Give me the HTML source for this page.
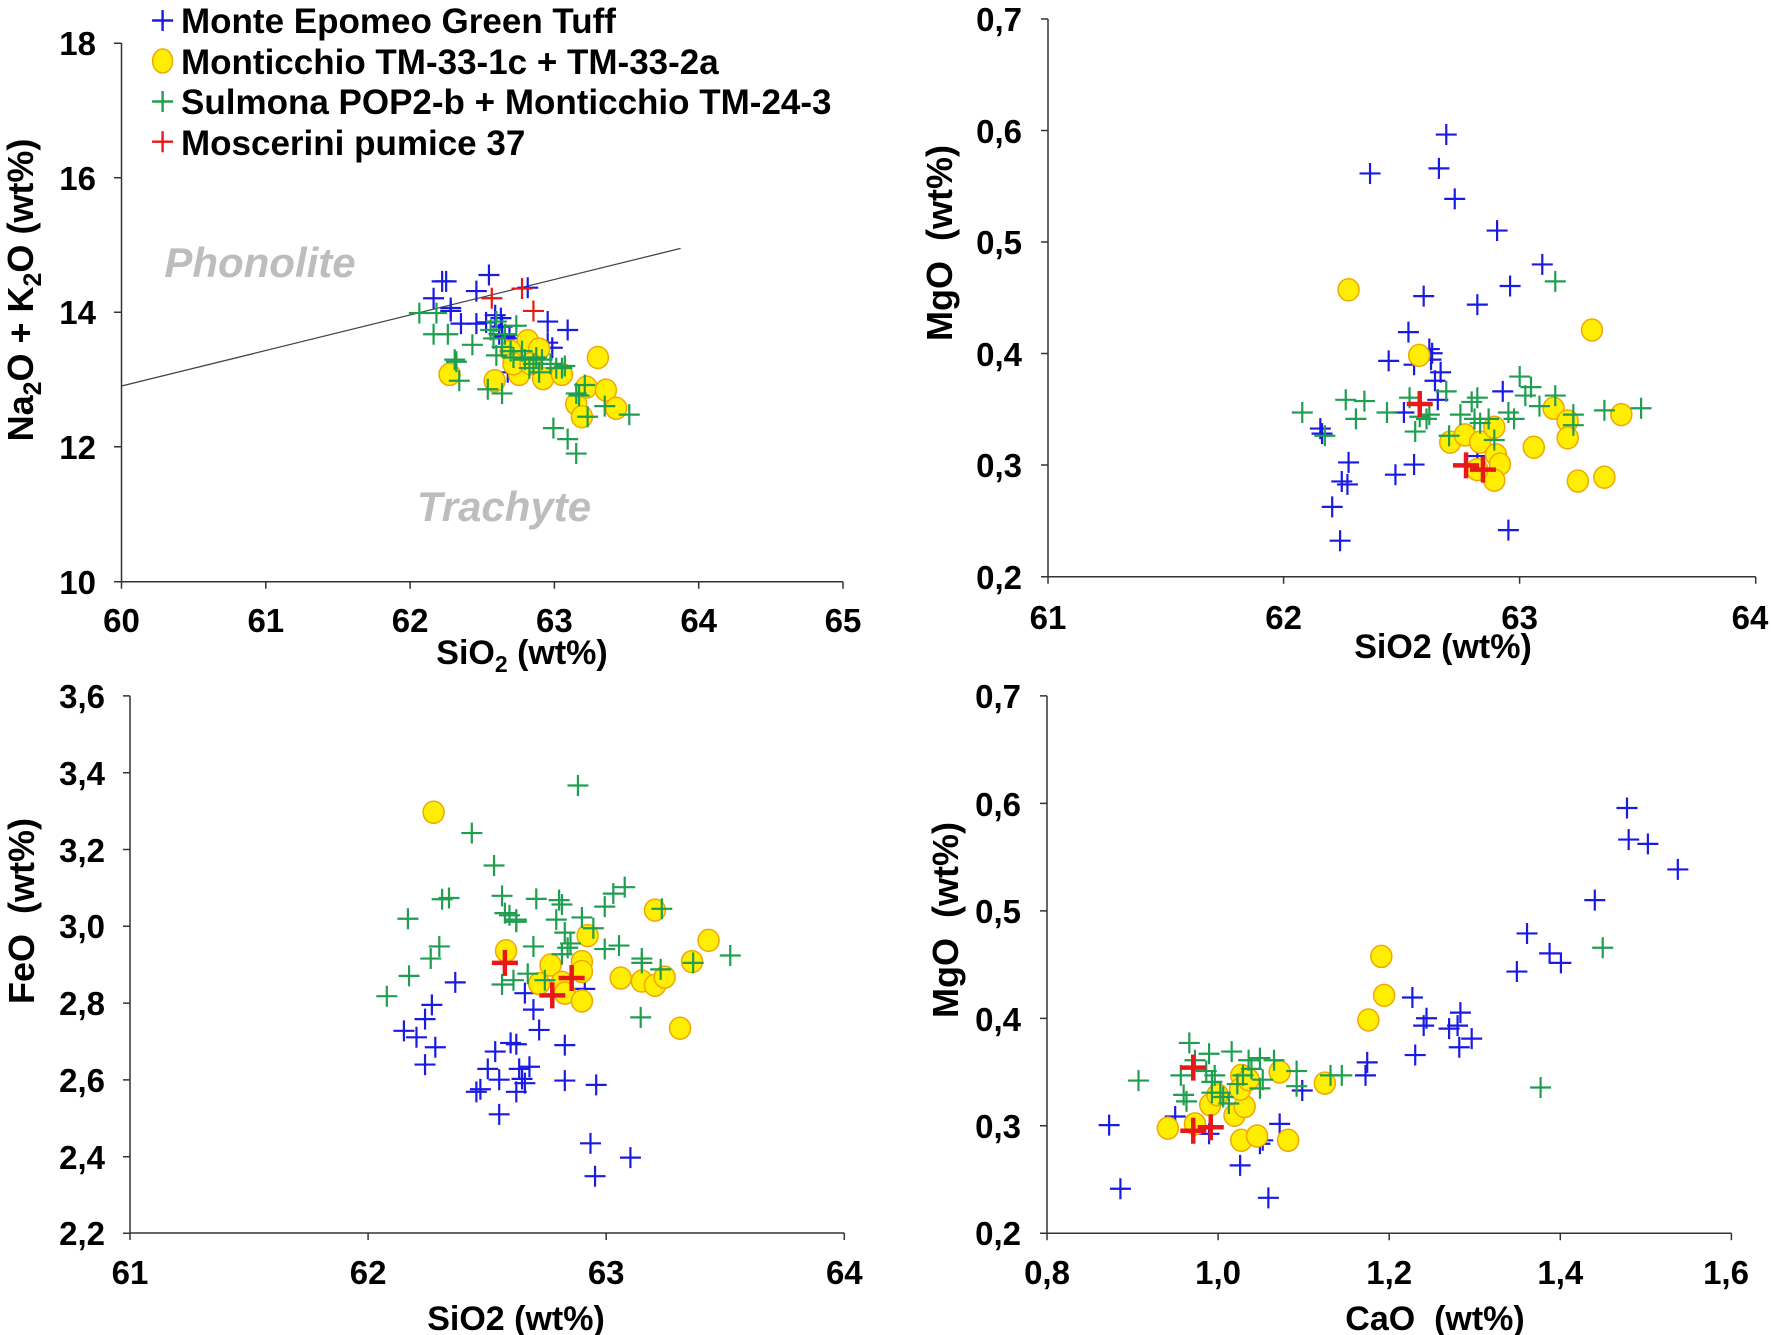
<!DOCTYPE html>
<html><head><meta charset="utf-8"><style>
html,body{margin:0;padding:0;background:#fff;}
svg{display:block;font-family:"Liberation Sans",Arial,sans-serif;font-weight:bold;}
</style></head><body>
<svg id="s" width="1771" height="1335" viewBox="0 0 1771 1335" xmlns="http://www.w3.org/2000/svg">
<rect width="1771" height="1335" fill="#fff"/>
<g stroke="#333" stroke-width="1.5" fill="none">
<path d="M121.5 43 V581.7 H843"/>
<path d="M114 43.2h7.5 M114 177.7h7.5 M114 312.2h7.5 M114 446.8h7.5 M114 581.7h7.5"/>
<path d="M121.5 581.7v7 M265.8 581.7v7 M410.1 581.7v7 M554.4 581.7v7 M698.7 581.7v7 M843 581.7v7"/>
<line x1="121.5" y1="386" x2="680.6" y2="248.4" stroke="#444" stroke-width="1.3"/>
<path d="M1048 19 V576.7 H1755.7"/>
<path d="M1041 19h7 M1041 130.5h7 M1041 242h7 M1041 353.5h7 M1041 465h7 M1041 576.7h7"/>
<path d="M1048 576.7v7 M1283.6 576.7v7 M1519.6 576.7v7 M1755.7 576.7v7"/>
<path d="M130 695.9 V1233 H844.3"/>
<path d="M123 695.9h7 M123 772.7h7 M123 849.5h7 M123 926.3h7 M123 1003.1h7 M123 1079.9h7 M123 1156.7h7 M123 1233.3h7"/>
<path d="M130 1233v7 M368.1 1233v7 M606.2 1233v7 M844.3 1233v7"/>
<path d="M1047 695.9 V1233.3 H1731.4"/>
<path d="M1040 695.9h7 M1040 803.4h7 M1040 910.9h7 M1040 1018.4h7 M1040 1125.8h7 M1040 1233.3h7"/>
<path d="M1047 1233.3v7 M1218.1 1233.3v7 M1389.2 1233.3v7 M1560.3 1233.3v7 M1731.4 1233.3v7"/>
</g>
<g id="pts"></g>
<g font-size="33" fill="#000">
<g text-anchor="end"><text x="96" y="55">18</text><text x="96" y="190">16</text><text x="96" y="324">14</text><text x="96" y="459">12</text><text x="96" y="594">10</text></g>
<g text-anchor="middle"><text x="121.5" y="632">60</text><text x="265.8" y="632">61</text><text x="410.1" y="632">62</text><text x="554.4" y="632">63</text><text x="698.7" y="632">64</text><text x="843" y="632">65</text></g>
<g text-anchor="end"><text x="1022" y="31">0,7</text><text x="1022" y="143">0,6</text><text x="1022" y="254">0,5</text><text x="1022" y="366">0,4</text><text x="1022" y="477">0,3</text><text x="1022" y="589">0,2</text></g>
<g text-anchor="middle"><text x="1048" y="629">61</text><text x="1283.6" y="629">62</text><text x="1519.6" y="629">63</text><text x="1750" y="629">64</text></g>
<g text-anchor="end"><text x="105" y="708">3,6</text><text x="105" y="785">3,4</text><text x="105" y="862">3,2</text><text x="105" y="938">3,0</text><text x="105" y="1015">2,8</text><text x="105" y="1092">2,6</text><text x="105" y="1169">2,4</text><text x="105" y="1245">2,2</text></g>
<g text-anchor="middle"><text x="130" y="1284">61</text><text x="368.1" y="1284">62</text><text x="606.2" y="1284">63</text><text x="844.3" y="1284">64</text></g>
<g text-anchor="end"><text x="1021" y="708">0,7</text><text x="1021" y="816">0,6</text><text x="1021" y="923">0,5</text><text x="1021" y="1031">0,4</text><text x="1021" y="1138">0,3</text><text x="1021" y="1245">0,2</text></g>
<g text-anchor="middle"><text x="1047" y="1284">0,8</text><text x="1218.1" y="1284">1,0</text><text x="1389.2" y="1284">1,2</text><text x="1560.3" y="1284">1,4</text><text x="1726" y="1284">1,6</text></g>
</g>
<g font-size="34" fill="#000" text-anchor="middle">
<text x="522" y="664">SiO<tspan font-size="23" dy="8">2</tspan><tspan dy="-8"> (wt%)</tspan></text>
<text x="1443" y="658">SiO2 (wt%)</text>
<text x="516" y="1330">SiO2 (wt%)</text>
<text x="1435" y="1330" xml:space="preserve">CaO  (wt%)</text>
</g>
<g font-size="36" fill="#000" text-anchor="middle">
<text transform="translate(33,290) rotate(-90)">Na<tspan font-size="25" dy="8">2</tspan><tspan dy="-8">O + K</tspan><tspan font-size="25" dy="8">2</tspan><tspan dy="-8">O (wt%)</tspan></text>
<text transform="translate(952,243) rotate(-90)" xml:space="preserve">MgO  (wt%)</text>
<text transform="translate(34,911) rotate(-90)" xml:space="preserve">FeO  (wt%)</text>
<text transform="translate(958,920) rotate(-90)" xml:space="preserve">MgO  (wt%)</text>
</g>
<g font-size="42" font-style="italic" fill="#bdbdbd" text-anchor="middle">
<text x="260" y="277">Phonolite</text>
<text x="504" y="521">Trachyte</text>
</g>
<g font-size="35" fill="#000">
<text x="181" y="33">Monte Epomeo Green Tuff</text>
<text x="181" y="74">Monticchio TM-33-1c + TM-33-2a</text>
<text x="181" y="114">Sulmona POP2-b + Monticchio TM-24-3</text>
<text x="181" y="155">Moscerini pumice 37</text>
</g>
</svg>
<script>
var B="#1a1ae6",G="#1f9e50",R="#e81818";
var out=[];
function plus(x,y,c,s,w){out.push('<path d="M'+(x-s)+' '+y+'h'+(2*s)+'M'+x+' '+(y-s)+'v'+(2*s)+'" stroke="'+c+'" stroke-width="'+w+'" fill="none"/>');}
function circ(x,y){out.push('<ellipse cx="'+x+'" cy="'+y+'" rx="10.5" ry="11" fill="#ffee00" stroke="#f0a800" stroke-width="1.5"/>');}
function P(ox,oy,w,h,b,y,g,r,big){
 var sx=w/1560,sy=h/1560;function X(p){return ox+p*sx}function Y(p){return oy+p*sy}
 b.forEach(function(p){plus(X(p[0]),Y(p[1]),B,10.5,2.2)});
 y.forEach(function(p){circ(X(p[0]),Y(p[1]))});
 g.forEach(function(p){plus(X(p[0]),Y(p[1]),G,10.5,2.2)});
 r.forEach(function(p){big?plus(X(p[0]),Y(p[1]),R,13,4.5):plus(X(p[0]),Y(p[1]),R,10.5,2.2)});
}
P(0,0,890,660,
[[775,665],[782,665],[760,705],[790,735],[790,728],[835,688],[857,650],[808,765],[835,765],[852,762],[868,745],[878,752],[880,772],[885,795],[893,800],[925,680],[960,760],[995,780],[890,880],[960,810],[968,822],[875,790]],
[[788,885],[867,900],[910,885],[925,805],[945,825],[952,895],[985,885],[1048,845],[1010,955],[1028,915],[1062,922],[1080,965],[1020,985],[895,830],[900,860],[930,860]],
[[735,740],[765,740],[760,790],[785,790],[797,850],[800,855],[805,900],[828,815],[855,920],[860,780],[865,800],[870,840],[885,790],[880,930],[895,830],[900,845],[905,770],[915,830],[920,850],[928,870],[935,860],[940,845],[950,850],[965,860],[975,870],[985,870],[990,865],[1010,930],[1015,935],[1025,910],[1030,985],[1060,960],[1103,980],[970,1012],[995,1038],[1010,1072],[870,760],[880,820],[945,880]],
[[862,705],[915,682],[935,735]],false);
P(890,0,881,660,
[[985,318],[850,410],[972,398],[1000,470],[1075,545],[1155,625],[1098,676],[945,700],[1040,720],[918,785],[883,853],[928,862],[955,825],[960,835],[958,850],[975,880],[965,900],[970,945],[1085,925],[910,975],[762,1013],[765,1025],[812,1093],[800,1138],[810,1145],[783,1198],[797,1278],[895,1122],[928,1098],[1040,1078],[1095,1253]],
[[812,685],[937,840],[1243,780],[992,1045],[1018,1028],[1045,1045],[1070,1010],[1073,1075],[1080,1097],[1070,1135],[1140,1057],[1175,965],[1200,995],[1200,1035],[1295,980],[1218,1137],[1265,1128],[1040,1110]],
[[730,975],[807,945],[840,948],[825,990],[770,1030],[880,975],[920,940],[938,985],[930,1020],[950,990],[955,980],[985,925],[990,1030],[1010,980],[1030,950],[1040,940],[1035,990],[1045,1000],[1060,990],[1070,1040],[1095,975],[1105,990],[1115,890],[1135,915],[1150,960],[1178,935],[1210,980],[1210,1005],[1265,970],[1330,965],[1178,665],[1125,935]],
[[938,955],[1020,1100],[1050,1110]],true);
P(0,660,890,675,
[[708,857],[730,872],[745,830],[757,797],[763,895],[745,935],[798,745],[868,905],[855,945],[835,998],[842,992],[875,970],[875,1050],[895,885],[905,888],[910,945],[928,940],[905,998],[920,978],[935,808],[920,770],[945,855],[990,890],[990,972],[1045,982],[1025,760],[1035,1117],[1043,1193],[1105,1150],[915,968]],
[[760,352],[887,672],[1030,637],[1148,578],[1242,648],[965,705],[1020,697],[1020,720],[945,748],[985,745],[990,770],[1020,788],[1088,735],[1125,742],[1148,752],[1165,733],[1213,697],[1192,851]],
[[678,777],[715,598],[717,730],[755,690],[770,662],[775,553],[787,550],[827,400],[866,475],[880,545],[885,585],[905,600],[893,590],[880,750],[900,740],[935,662],[940,552],[925,725],[955,740],[975,600],[980,555],[985,565],[990,630],[995,665],[985,680],[1000,655],[1020,595],[1040,620],[1013,290],[1060,570],[1060,668],[1085,660],[1075,540],[1095,525],[1125,690],[1125,700],[1160,575],[1158,715],[1215,700],[1280,683],[1123,826],[905,605]],
[[885,700],[968,775],[1002,735]],true);
P(890,660,881,675,
[[1305,342],[1308,415],[1342,425],[1395,484],[1248,555],[1128,632],[1168,678],[1188,700],[1110,720],[925,780],[950,828],[945,845],[990,852],[1010,815],[1005,845],[1030,875],[1008,895],[930,913],[845,930],[842,960],[388,1075],[408,1222],[505,1055],[565,1095],[690,1072],[730,995],[620,1168],[660,1110],[655,1118],[670,1243]],
[[492,1082],[540,1072],[567,1028],[580,1005],[610,1052],[622,960],[628,1032],[620,992],[622,1110],[650,1100],[705,1110],[690,952],[770,978],[847,832],[870,685],[875,775],[635,970]],
[[530,885],[540,925],[565,910],[515,960],[520,1005],[525,1020],[440,972],[560,950],[575,960],[570,975],[590,1010],[600,1025],[605,905],[615,980],[625,960],[635,925],[640,945],[655,990],[660,970],[655,920],[680,925],[720,950],[720,985],[780,960],[800,960],[1152,988],[1262,665],[570,1000],[585,1000]],
[[537,942],[537,1088],[568,1080]],true);
plus(162.6,20.5,B,10.5,2.4);
out.push('<ellipse cx="162.6" cy="61" rx="10" ry="12" fill="#ffee00" stroke="#f0a800" stroke-width="1.5"/>');
plus(162.6,101.5,G,10.5,2.4);
plus(162.6,141.7,R,10.5,2.4);
document.getElementById('pts').innerHTML=out.join('');
</script>
</body></html>
